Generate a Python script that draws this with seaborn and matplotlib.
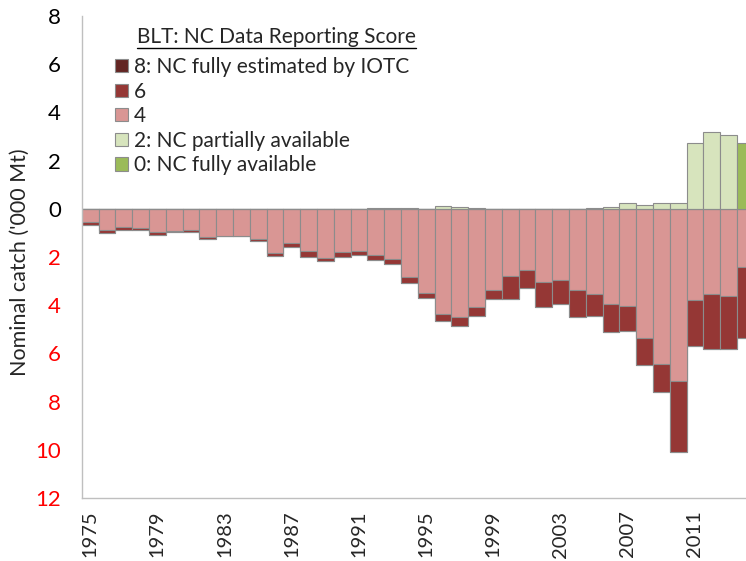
import matplotlib
matplotlib.use("Agg")
import matplotlib.pyplot as plt
from matplotlib.lines import Line2D
from matplotlib.patches import Patch
import numpy as np
import seaborn as sns

# BLT nominal catch by data reporting score ('000 t), 1975-2014
years = list(range(1975, 2015))
score4 = [0.55, 0.87, 0.75, 0.80, 0.97, 0.93, 0.89, 1.18, 1.11, 1.11,
          1.27, 1.82, 1.41, 1.75, 2.03, 1.80, 1.74, 1.91, 2.10, 2.83,
          3.49, 4.38, 4.51, 4.07, 3.37, 2.79, 2.56, 3.05, 2.96, 3.35,
          3.53, 3.95, 4.03, 5.36, 6.45, 7.14, 3.77, 3.52, 3.60, 2.42]
score6 = [0.14, 0.12, 0.14, 0.06, 0.12, 0.04, 0.09, 0.09, 0.02, 0.02,
          0.07, 0.14, 0.18, 0.23, 0.14, 0.18, 0.18, 0.20, 0.17, 0.25,
          0.22, 0.27, 0.36, 0.38, 0.39, 0.94, 0.74, 1.01, 1.00, 1.16,
          0.93, 1.17, 1.04, 1.12, 1.16, 2.96, 1.92, 2.28, 2.23, 2.94]
score8 = [0.0] * 40
score2 = [0.0] * 17 + [0.03, 0.02, 0.04, 0.0, 0.11, 0.08, 0.04, 0.0, 0.0,
                       0.0, 0.0, 0.0, 0.0, 0.02, 0.07, 0.25, 0.15, 0.22,
                       0.25, 2.73, 3.17, 3.08, 0.0]
score0 = [0.0] * 39 + [2.73]

labels = ["8: NC fully estimated by IOTC", "6", "4",
          "2: NC partially available", "0: NC fully available"]
colors = ["#632523", "#953735", "#d99694", "#d7e4bd", "#9bbb59"]
edge = "#8c8c8c"

sns.set_style("white")
plt.rcParams["font.family"] = ["Lato", "DejaVu Sans"]

fig = plt.figure(figsize=(7.46, 5.61), dpi=100)
ax_left = 81.7
ax_w = 16.8 * 40
ax = fig.add_axes([ax_left / 746, 1 - 498 / 561, ax_w / 746, (498 - 16) / 561])

xs = [str(y) for y in years]
s4 = np.array(score4)
s6 = np.array(score6)
s8 = np.array(score8)
# negative stack drawn as overlapping cumulative bars
sns.barplot(x=xs, y=-(s4 + s6 + s8), color=colors[0], width=1, edgecolor=edge,
            linewidth=0.8, saturation=1, ax=ax)
sns.barplot(x=xs, y=-(s4 + s6), color=colors[1], width=1, edgecolor=edge,
            linewidth=0.8, saturation=1, ax=ax)
sns.barplot(x=xs, y=-s4, color=colors[2], width=1, edgecolor=edge,
            linewidth=0.8, saturation=1, ax=ax)
sns.barplot(x=xs, y=score2, color=colors[3], width=1, edgecolor=edge,
            linewidth=0.8, saturation=1, ax=ax)
sns.barplot(x=xs, y=score0, color=colors[4], width=1, edgecolor=edge,
            linewidth=0.8, saturation=1, ax=ax)

ax.set_xlim(-0.5, 39.5)
ax.set_ylim(-12, 8)
yt = np.arange(-12, 9, 2)
ax.set_yticks(yt)
ax.set_yticklabels([str(abs(v)) for v in yt], fontsize=16)
for lab, v in zip(ax.get_yticklabels(), yt):
    lab.set_color("#ff0000" if v < 0 else "black")
ax.set_xticks(range(0, 40, 4))
ax.set_xticklabels([str(y) for y in years[::4]], rotation=90, fontsize=14.5)
ax.tick_params(axis="y", length=6, color="#bfbfbf", width=1, pad=9)
ax.tick_params(axis="x", length=0, pad=9)
ax.set_ylabel("Nominal catch ('000 Mt)", fontsize=15.5)
ax.yaxis.set_label_coords((30 - ax_left) / ax_w, 0.49)
ax.set_xlabel("")

for side in ["top", "right"]:
    ax.spines[side].set_visible(False)
for side in ["left", "bottom"]:
    ax.spines[side].set_color("#bfbfbf")
    ax.spines[side].set_linewidth(1)
ax.axhline(0, color="#a6a6a6", lw=0.8, zorder=0.5)

handles = [Patch(facecolor=c, edgecolor=edge, linewidth=0.8) for c in colors]
fig.legend(handles, labels, loc="upper left",
           bbox_to_anchor=(115 / 746, 1 - 57 / 561), bbox_transform=fig.transFigure,
           frameon=False, fontsize=15, borderpad=0, borderaxespad=0,
           handlelength=0.6, handleheight=0.6, handletextpad=0.3,
           labelspacing=0.22)

title = fig.text(137 / 746, 1 - 37 / 561, "BLT: NC Data Reporting Score",
                 fontsize=15, va="center", ha="left")
fig.canvas.draw()
bb = title.get_window_extent()
uy = (bb.y0 - 1) / fig.bbox.height
fig.add_artist(Line2D([bb.x0 / fig.bbox.width, bb.x1 / fig.bbox.width], [uy, uy],
                      color="black", lw=1, transform=fig.transFigure))

fig.savefig("out.png", dpi=100)
